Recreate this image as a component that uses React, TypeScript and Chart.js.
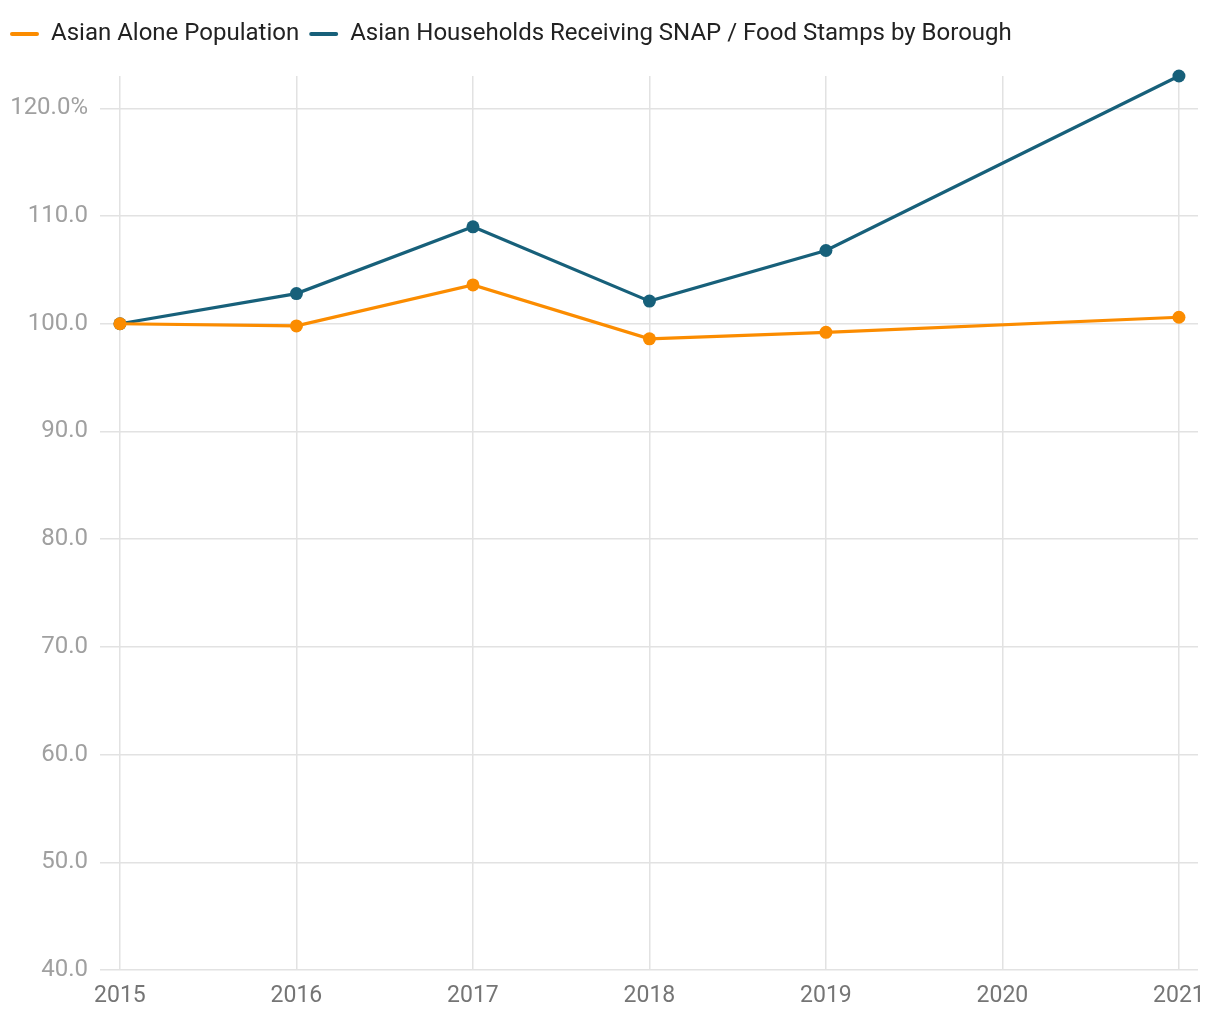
import React, { useEffect, useRef } from "react";
import { Chart, registerables } from "chart.js";

Chart.register(...registerables);

const years = [2015, 2016, 2017, 2018, 2019, 2020, 2021];
const populationValues: (number | null)[] = [100, 99.8, 103.6, 98.6, 99.2, null, 100.6];
const snapValues: (number | null)[] = [100, 102.8, 109.0, 102.1, 106.8, null, 123.0];
const yTicks = [40, 50, 60, 70, 80, 90, 100, 110, 120];
const seriesNames = ["Asian Alone Population", "Asian Households Receiving SNAP / Food Stamps by Borough"];

const ORANGE = "#fb8c00";
const TEAL = "#17607a";

export default function App() {
  const ref = useRef<HTMLCanvasElement | null>(null);

  useEffect(() => {
    document.body.style.margin = "0";
    const canvas = ref.current;
    if (!canvas) return;
    const toPoints = (vals: (number | null)[]) => years.map((x, i) => ({ x, y: vals[i] }));

    const legendMargin = {
      id: "legendMargin",
      beforeInit(chart: any) {
        const legend = chart.legend;
        if (!legend) return;
        const fit = legend.fit;
        legend.fit = function () {
          fit.bind(legend)();
          this.height = 64;
        };
      },
    };

    const chart = new Chart(canvas, {
      type: "line",
      data: {
        datasets: [
          {
            label: seriesNames[0],
            data: toPoints(populationValues) as any,
            borderColor: ORANGE,
            backgroundColor: ORANGE,
            borderWidth: 3.2,
            pointRadius: 6.5,
            pointBackgroundColor: ORANGE,
            pointBorderWidth: 0,
            spanGaps: true,
            tension: 0,
            clip: false,
          },
          {
            label: seriesNames[1],
            data: toPoints(snapValues) as any,
            borderColor: TEAL,
            backgroundColor: TEAL,
            borderWidth: 3.2,
            pointRadius: 6.5,
            pointBackgroundColor: TEAL,
            pointBorderWidth: 0,
            spanGaps: true,
            tension: 0,
            clip: false,
          },
        ],
      },
      options: {
        animation: false,
        responsive: false,
        devicePixelRatio: 1,
        layout: { padding: { top: 12, left: 0, right: 22, bottom: 0 } },
        plugins: {
          legend: {
            position: "top",
            align: "start",
            labels: {
              boxWidth: 29,
              boxHeight: 4,
              padding: 10,
              color: "#222222",
              font: { family: "Roboto", size: 24 },
              generateLabels(chart: any) {
                return chart.data.datasets.map((ds: any, i: number) => ({
                  text: ds.label,
                  fillStyle: ds.borderColor,
                  strokeStyle: ds.borderColor,
                  lineWidth: 0,
                  hidden: false,
                  datasetIndex: i,
                  fontColor: "#222222",
                  borderRadius: 2,
                }));
              },
              useBorderRadius: true,
              borderRadius: 2,
            },
          },
          tooltip: { enabled: false },
        },
        scales: {
          x: {
            type: "linear",
            min: 2014.887,
            max: 2021.108,
            afterBuildTicks(scale: any) {
              scale.ticks = years.map((v) => ({ value: v }));
            },
            afterFit(scale: any) {
              scale.height = 50;
            },
            ticks: {
              color: "#757575",
              font: { family: "Roboto", size: 23 },
              padding: 12,
              maxRotation: 0,
              autoSkip: false,
              callback: (v: any) => String(v),
            },
            grid: { color: "#e2e2e2", lineWidth: 1.5, drawTicks: false },
            border: { display: false },
          },
          y: {
            min: 40,
            max: 123,
            afterBuildTicks(scale: any) {
              scale.ticks = yTicks.map((v) => ({ value: v }));
            },
            afterFit(scale: any) {
              scale.width = 100;
            },
            ticks: {
              color: "#a0a0a0",
              font: { family: "Roboto", size: 24 },
              padding: 12,
              callback: (v: any) => (v === 120 ? "120.0%" : Number(v).toFixed(1)),
            },
            grid: { color: "#e2e2e2", lineWidth: 1.5, drawTicks: false },
            border: { display: false },
          },
        },
      },
      plugins: [legendMargin],
    } as any);

    return () => chart.destroy();
  }, []);

  return (
    <div style={{ position: "absolute", left: 0, top: 0, width: 1220, height: 1020 }}>
      <canvas ref={ref} width={1220} height={1020} style={{ width: 1220, height: 1020, display: "block" }} />
    </div>
  );
}
